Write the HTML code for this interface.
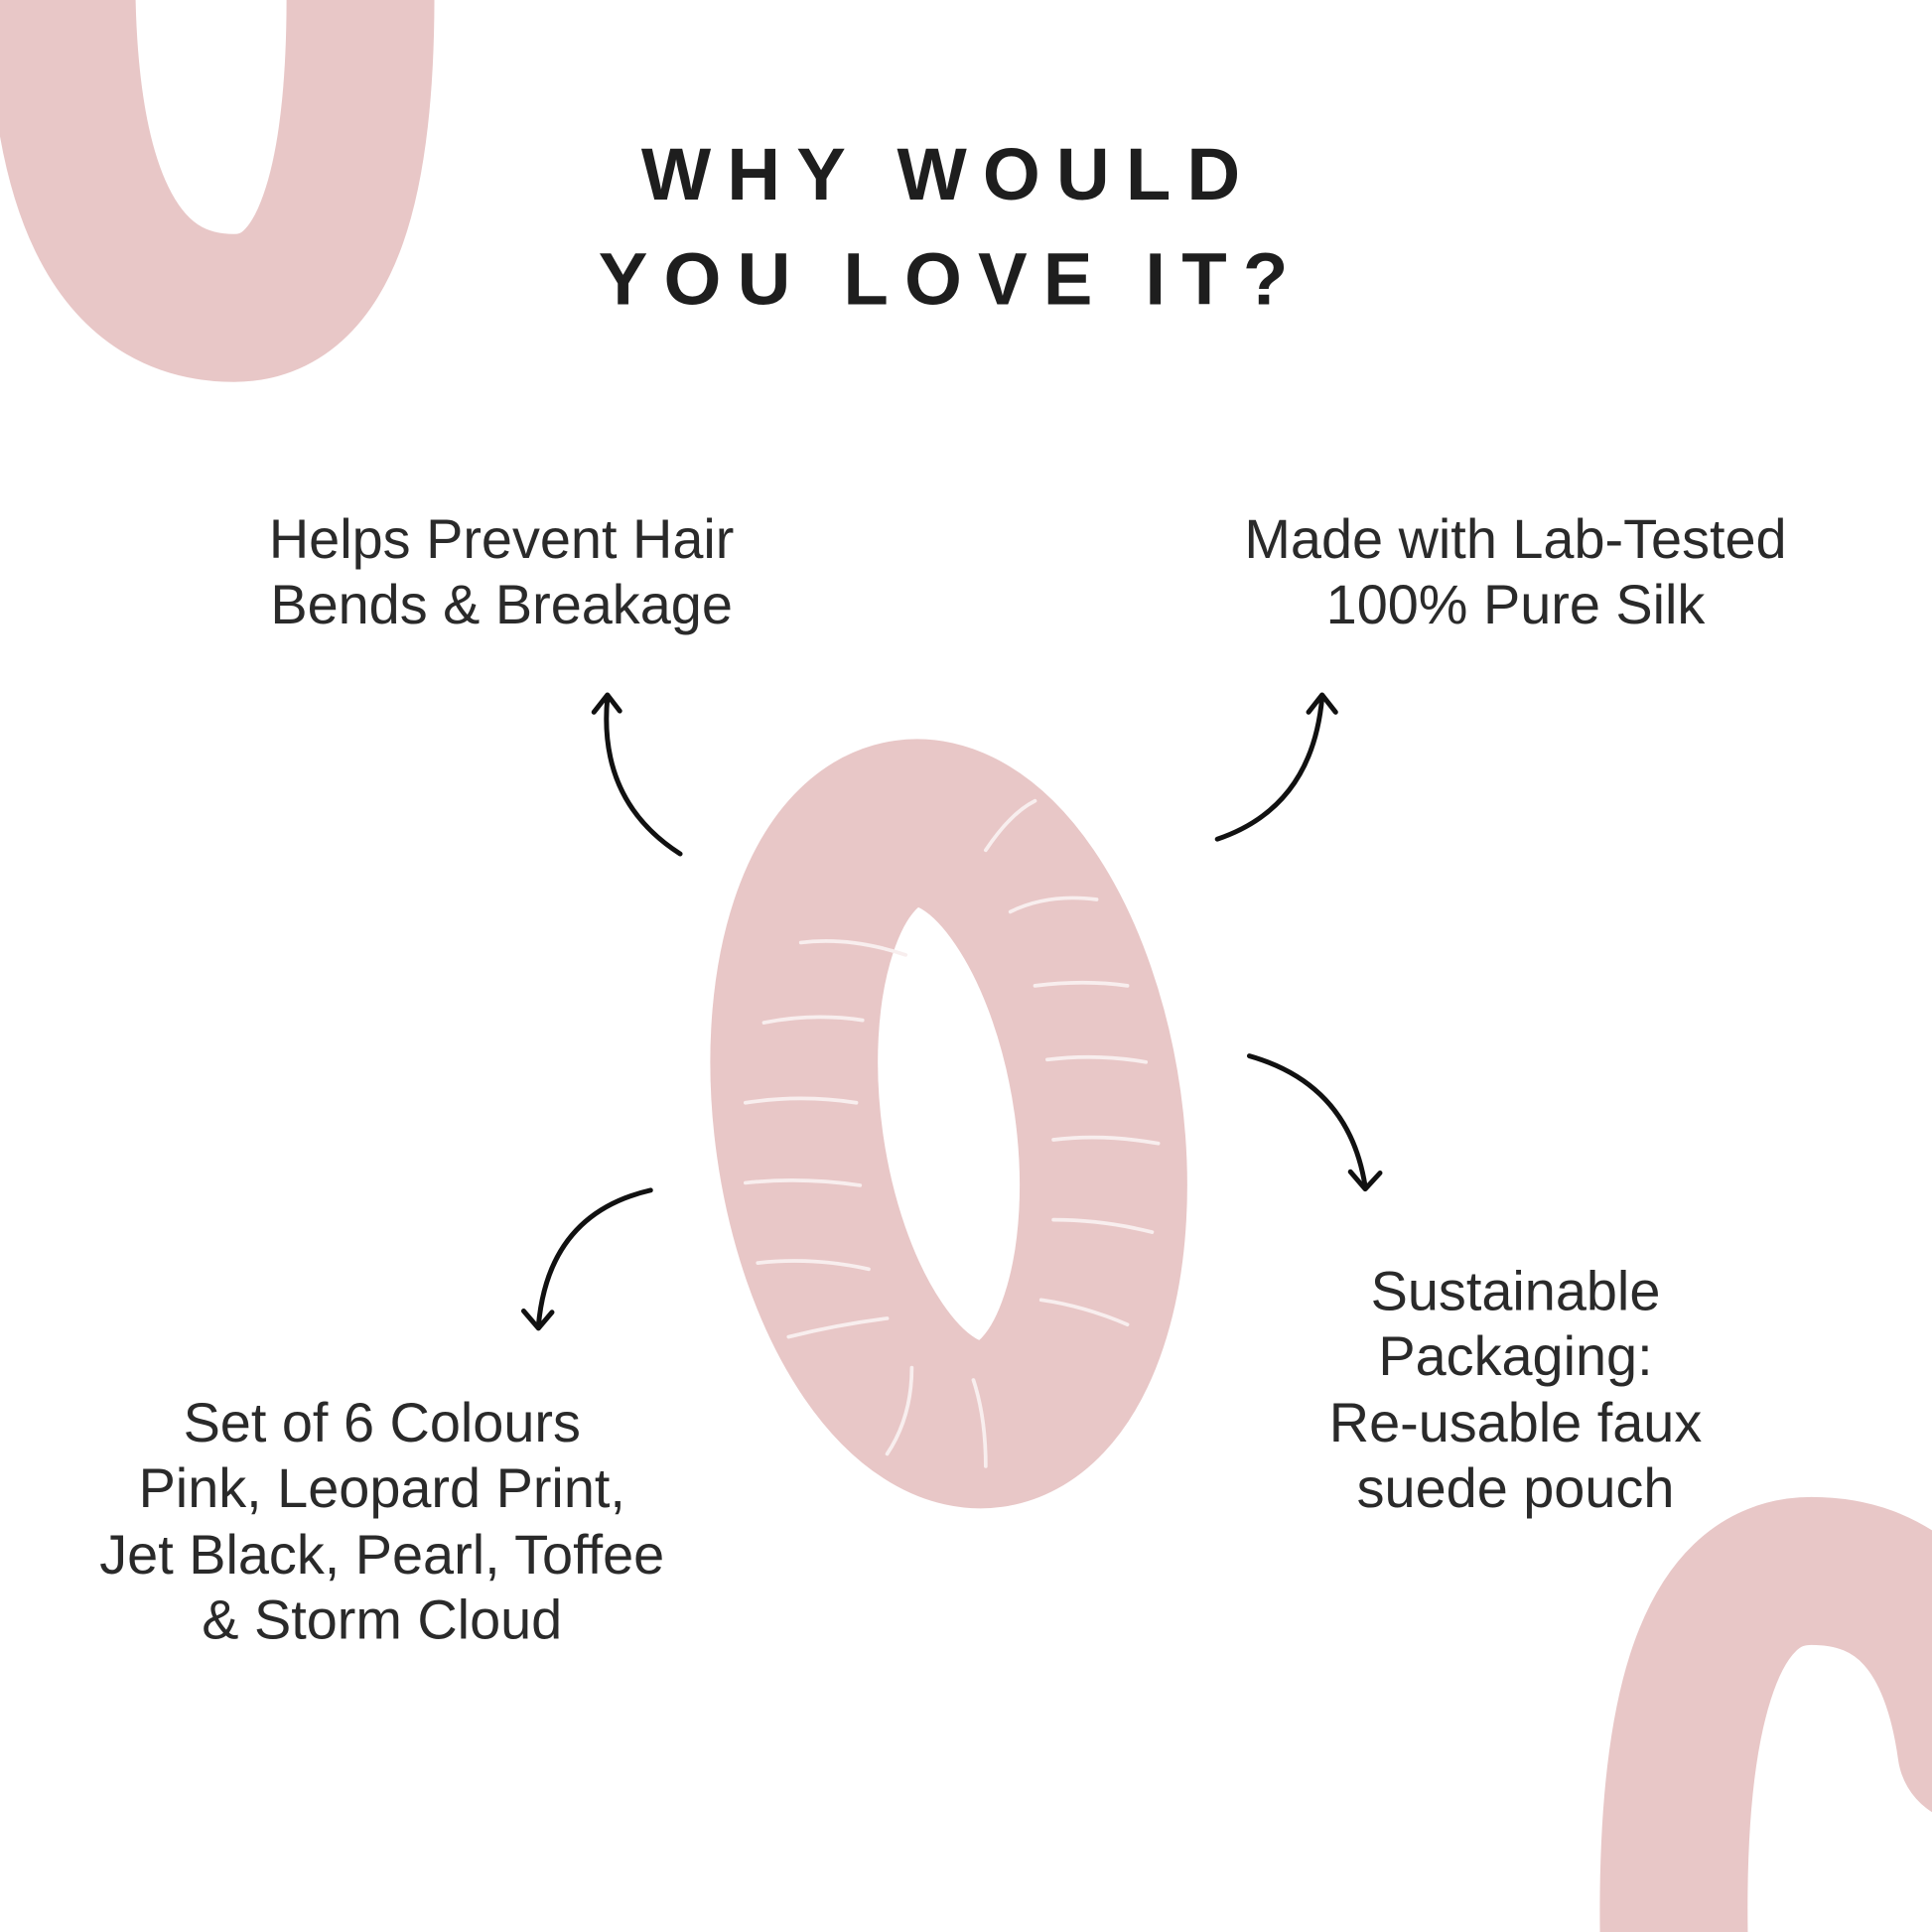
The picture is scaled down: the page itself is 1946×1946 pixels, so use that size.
<!DOCTYPE html>
<html><head><meta charset="utf-8"><style>
html,body{margin:0;padding:0;background:#fff;}
svg{display:block;}
</style></head><body>
<svg width="1946" height="1946" viewBox="0 0 1568 1568" xmlns="http://www.w3.org/2000/svg">
<rect width="1568" height="1568" fill="#fff"/>
<g fill="none" stroke="#e8c7c7" stroke-linecap="round">
  <path d="M 50 -40 Q 45 250 190 250 Q 300 250 292 -40" stroke-width="120"/>
  <path d="M 1360 1620 Q 1345 1275 1470 1275 Q 1580 1275 1600 1420" stroke-width="120"/>
  <ellipse cx="770" cy="912" rx="122" ry="246" stroke-width="136" transform="rotate(-8 770 912)"/>
</g>
<g fill="none" stroke="#f8eeee" stroke-width="3" stroke-linecap="round">
  <path d="M 620 830 Q 660 822 700 828"/>
  <path d="M 605 895 Q 650 888 695 895"/>
  <path d="M 605 960 Q 650 955 698 962"/>
  <path d="M 615 1025 Q 660 1020 705 1030"/>
  <path d="M 640 1085 Q 680 1075 720 1070"/>
  <path d="M 650 765 Q 690 760 735 775"/>
  <path d="M 840 800 Q 880 795 915 800"/>
  <path d="M 850 860 Q 890 855 930 862"/>
  <path d="M 855 925 Q 895 920 940 928"/>
  <path d="M 855 990 Q 895 990 935 1000"/>
  <path d="M 845 1055 Q 880 1060 915 1075"/>
  <path d="M 820 740 Q 850 725 890 730"/>
  <path d="M 800 690 Q 820 660 840 650"/>
  <path d="M 790 1120 Q 800 1150 800 1190"/>
  <path d="M 740 1110 Q 740 1150 720 1180"/>
</g>
<g fill="none" stroke="#111" stroke-width="4" stroke-linecap="round" stroke-linejoin="round">
  <path d="M 552 693 Q 485 650 493 566"/>
  <path d="M 482 578 L 493 564 L 503 577"/>
  <path d="M 988 681 Q 1065 655 1073 566"/>
  <path d="M 1062 578 L 1073 564 L 1084 578"/>
  <path d="M 1014 857 Q 1095 880 1108 963"/>
  <path d="M 1096 951 L 1108 965 L 1120 952"/>
  <path d="M 528 966 Q 445 985 437 1076"/>
  <path d="M 425 1064 L 437 1078 L 448 1065"/>
</g>
<g font-family="Liberation Sans, sans-serif" text-anchor="middle" fill="#1e1e1e">
  <text x="770" y="162" font-size="60" font-weight="bold" letter-spacing="13">WHY WOULD</text>
  <text x="772" y="247" font-size="60" font-weight="bold" letter-spacing="13">YOU LOVE IT?</text>
</g>
<g font-family="Liberation Sans, sans-serif" text-anchor="middle" fill="#2a2a2a" font-size="45">
  <text x="407" y="453">Helps Prevent Hair</text>
  <text x="407" y="506">Bends &amp; Breakage</text>
  <text x="1230" y="453">Made with Lab-Tested</text>
  <text x="1230" y="506">100% Pure Silk</text>
  <text x="1230" y="1063">Sustainable</text>
  <text x="1230" y="1116">Packaging:</text>
  <text x="1230" y="1170">Re-usable faux</text>
  <text x="1230" y="1223">suede pouch</text>
  <text x="310" y="1170">Set of 6 Colours</text>
  <text x="310" y="1223">Pink, Leopard Print,</text>
  <text x="310" y="1277">Jet Black, Pearl, Toffee</text>
  <text x="310" y="1330">&amp; Storm Cloud</text>
</g>
</svg>
</body></html>
